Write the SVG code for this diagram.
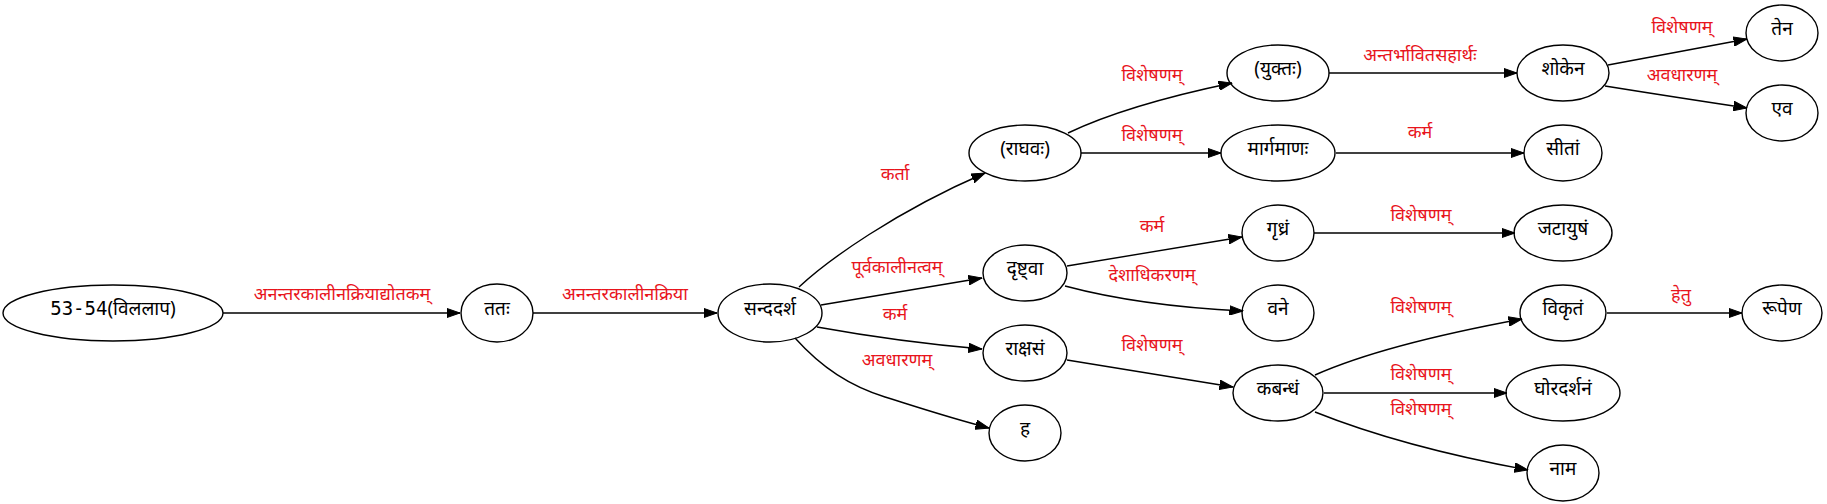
<svg xmlns="http://www.w3.org/2000/svg" width="1827" height="504" viewBox="0 0 1827 504">
<style>
.n ellipse{fill:none;stroke:#000;stroke-width:1.4}
.n text{font-family:"Noto Sans","DejaVu Sans",sans-serif;font-size:19px;fill:#000;text-anchor:middle}
.m{font-family:"DejaVu Sans Mono","Liberation Mono",monospace}
.e path{fill:none;stroke:#000;stroke-width:1.4}
.l{font-family:"Noto Sans","DejaVu Sans",sans-serif;font-size:18px;fill:#e8141c;text-anchor:middle}
</style>
<defs>
<marker id="a" markerUnits="userSpaceOnUse" markerWidth="14" markerHeight="10" viewBox="0 0 14 10" refX="13.5" refY="5" orient="auto">
<path d="M0,0.3 L13.5,5 L0,9.7 z" fill="#000" stroke="#000" stroke-width="1"/>
</marker>
</defs>
<rect width="1827" height="504" fill="#fff"/>
<g id="edges" class="e">
<path marker-end="url(#a)" d="M223,313 L460,313"/>
<path marker-end="url(#a)" d="M533,313 L717,313"/>
<path marker-end="url(#a)" d="M799,287 C828,260 895,212 985,173"/>
<path marker-end="url(#a)" d="M821,305 L982,278"/>
<path marker-end="url(#a)" d="M817,327 Q900,342 982,349"/>
<path marker-end="url(#a)" d="M795,338 C822,368 850,386 885,397 C920,408 950,418 989,428"/>
<path marker-end="url(#a)" d="M1068,133 C1110,113 1165,97 1232,83"/>
<path marker-end="url(#a)" d="M1081,153 L1221,153"/>
<path marker-end="url(#a)" d="M1067,266 L1242,237"/>
<path marker-end="url(#a)" d="M1065,286 Q1140,306 1243,311"/>
<path marker-end="url(#a)" d="M1067,360 L1233,387"/>
<path marker-end="url(#a)" d="M1329,73 L1517,73"/>
<path marker-end="url(#a)" d="M1336,153 L1524,153"/>
<path marker-end="url(#a)" d="M1314,233 L1515,233"/>
<path marker-end="url(#a)" d="M1608,65 L1747,39"/>
<path marker-end="url(#a)" d="M1605,86 Q1680,98 1747,108"/>
<path marker-end="url(#a)" d="M1315,375 C1360,355 1430,336 1522,319"/>
<path marker-end="url(#a)" d="M1324,393 L1507,393"/>
<path marker-end="url(#a)" d="M1315,412 C1360,430 1430,452 1528,470"/>
<path marker-end="url(#a)" d="M1607,313 L1742,313"/>
</g>
<g id="edge-labels">
<text class="l" x="342" y="300">अनन्तरकालीनक्रियाद्योतकम्</text>
<text class="l" x="625" y="300">अनन्तरकालीनक्रिया</text>
<text class="l" x="895" y="180">कर्ता</text>
<text class="l" x="897" y="273">पूर्वकालीनत्वम्</text>
<text class="l" x="895" y="320">कर्म</text>
<text class="l" x="897" y="366">अवधारणम्</text>
<text class="l" x="1152" y="81">विशेषणम्</text>
<text class="l" x="1152" y="141">विशेषणम्</text>
<text class="l" x="1152" y="232">कर्म</text>
<text class="l" x="1152" y="281">देशाधिकरणम्</text>
<text class="l" x="1152" y="351">विशेषणम्</text>
<text class="l" x="1420" y="61">अन्तर्भावितसहार्थः</text>
<text class="l" x="1420" y="138">कर्म</text>
<text class="l" x="1421" y="221">विशेषणम्</text>
<text class="l" x="1421" y="313">विशेषणम्</text>
<text class="l" x="1421" y="380">विशेषणम्</text>
<text class="l" x="1421" y="415">विशेषणम्</text>
<text class="l" x="1682" y="33">विशेषणम्</text>
<text class="l" x="1682" y="81">अवधारणम्</text>
<text class="l" x="1681" y="301">हेतु</text>
</g>
<g id="n1" class="n"><ellipse cx="113" cy="313" rx="110" ry="28"/><text x="113" y="315"><tspan class="m">53-54</tspan>(विललाप)</text></g>
<g id="n2" class="n"><ellipse cx="497" cy="313" rx="36" ry="29"/><text x="497" y="315">ततः</text></g>
<g id="n3" class="n"><ellipse cx="770" cy="313" rx="52" ry="29"/><text x="770" y="315">सन्ददर्श</text></g>
<g id="n4" class="n"><ellipse cx="1025" cy="153" rx="56" ry="28"/><text x="1025" y="155">(राघवः)</text></g>
<g id="n5" class="n"><ellipse cx="1025" cy="273" rx="42" ry="28"/><text x="1025" y="275">दृष्ट्वा</text></g>
<g id="n6" class="n"><ellipse cx="1025" cy="353" rx="42" ry="28"/><text x="1025" y="355">राक्षसं</text></g>
<g id="n7" class="n"><ellipse cx="1025" cy="433" rx="36" ry="28"/><text x="1025" y="435">ह</text></g>
<g id="n8" class="n"><ellipse cx="1278" cy="73" rx="51" ry="28"/><text x="1278" y="75">(युक्तः)</text></g>
<g id="n9" class="n"><ellipse cx="1278" cy="153" rx="57" ry="28"/><text x="1278" y="155">मार्गमाणः</text></g>
<g id="n10" class="n"><ellipse cx="1278" cy="233" rx="36" ry="28"/><text x="1278" y="235">गृध्रं</text></g>
<g id="n11" class="n"><ellipse cx="1278" cy="313" rx="36" ry="28"/><text x="1278" y="315">वने</text></g>
<g id="n12" class="n"><ellipse cx="1278" cy="393" rx="45" ry="28"/><text x="1278" y="395">कबन्धं</text></g>
<g id="n13" class="n"><ellipse cx="1563" cy="73" rx="46" ry="28"/><text x="1563" y="75">शोकेन</text></g>
<g id="n14" class="n"><ellipse cx="1563" cy="153" rx="39" ry="28"/><text x="1563" y="155">सीतां</text></g>
<g id="n15" class="n"><ellipse cx="1563" cy="233" rx="49" ry="28"/><text x="1563" y="235">जटायुषं</text></g>
<g id="n16" class="n"><ellipse cx="1563" cy="313" rx="43" ry="28"/><text x="1563" y="315">विकृतं</text></g>
<g id="n17" class="n"><ellipse cx="1563" cy="393" rx="57" ry="28"/><text x="1563" y="395">घोरदर्शनं</text></g>
<g id="n18" class="n"><ellipse cx="1563" cy="473" rx="36" ry="28"/><text x="1563" y="475">नाम</text></g>
<g id="n19" class="n"><ellipse cx="1782" cy="33" rx="36" ry="28"/><text x="1782" y="35">तेन</text></g>
<g id="n20" class="n"><ellipse cx="1782" cy="113" rx="36" ry="28"/><text x="1782" y="115">एव</text></g>
<g id="n21" class="n"><ellipse cx="1782" cy="313" rx="40" ry="28"/><text x="1782" y="315">रूपेण</text></g>
</svg>
